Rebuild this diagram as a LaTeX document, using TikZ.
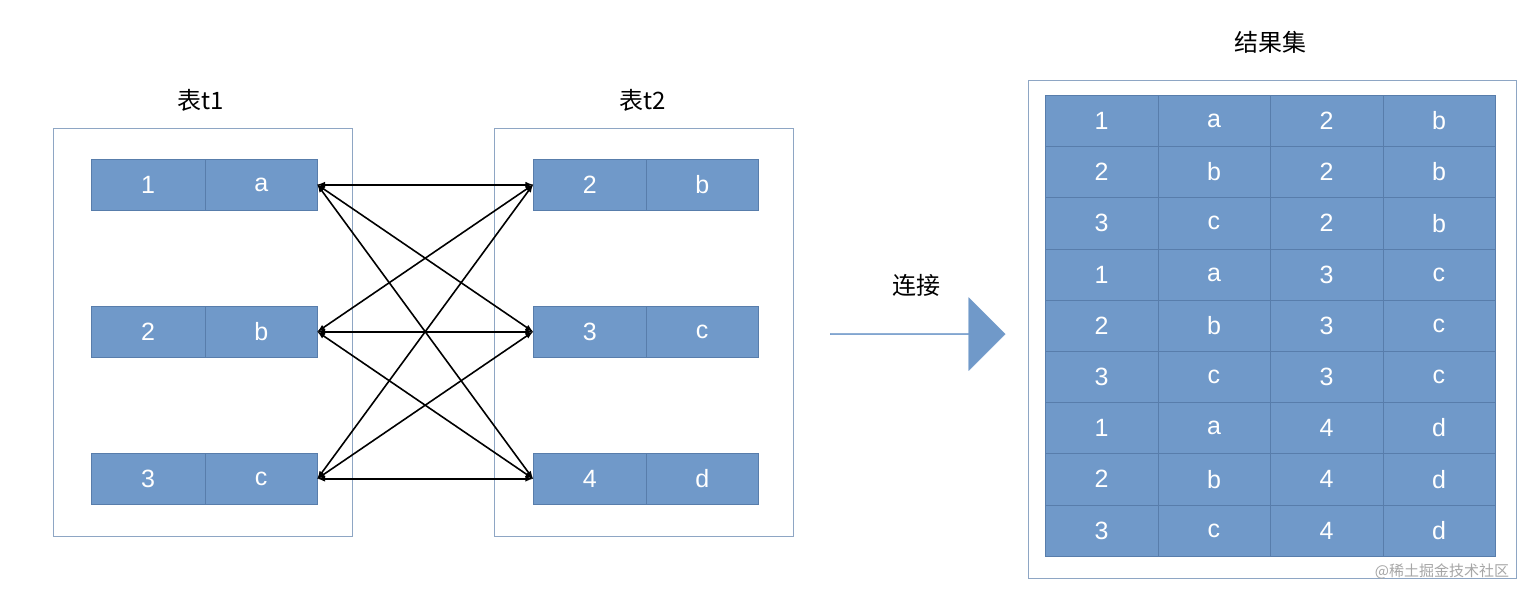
\documentclass[tikz,border=0pt]{standalone}
\usepackage{fontspec}
\setmainfont{Liberation Sans}
\newfontfamily\cjk{Noto Sans CJK SC}
\usetikzlibrary{shapes.arrows}
\definecolor{cellb}{HTML}{7099C9}
\definecolor{celld}{HTML}{587DAB}
\definecolor{boxl}{HTML}{8EA6C4}
\begin{document}
\begin{tikzpicture}[x=1pt,y=-1pt,
  cell/.style={draw=celld,fill=cellb,text=white,minimum height=51pt,inner sep=0pt,font=\fontsize{25}{25}\selectfont,anchor=north west},
  frame/.style={draw=boxl,line width=1pt},
  lbl/.style={font=\cjk\fontsize{24}{24}\selectfont},
  conn/.style={<->,>=latex,line width=1.6pt}]
\useasboundingbox (0,0) rectangle (1540,600);
\node[frame,minimum width=299pt,minimum height=408pt,anchor=north west,inner sep=0pt] (b1) at (53,128) {};
\node[frame,minimum width=299pt,minimum height=408pt,anchor=north west,inner sep=0pt] (b2) at (494,128) {};
\node[lbl] (t1) at (201,100) {表t1};
\node[lbl] (t2) at (643,100) {表t2};
\foreach \i/\y/\n/\l in {1/159/1/a,2/306/2/b,3/453/3/c}{
  \node[cell,minimum width=114pt] (l\i a) at (91,\y) {\n};
  \node[cell,minimum width=112pt] (l\i b) at (205,\y) {\l};
}
\foreach \i/\y/\n/\l in {1/159/2/b,2/306/3/c,3/453/4/d}{
  \node[cell,minimum width=113pt] (r\i a) at (533,\y) {\n};
  \node[cell,minimum width=112pt] (r\i b) at (646,\y) {\l};
}
\foreach \i in {1,2,3}{\foreach \j in {1,2,3}{
  \draw[conn] (l\i b.east) -- (r\j a.west);
}}
\node[lbl] (lj) at (916,285) {连接};
\node[single arrow,fill=cellb,draw=cellb,minimum height=175pt,minimum width=73pt,single arrow head extend=13pt,inner sep=0pt,anchor=west] (ar) at (830,334) {};
\node[frame,minimum width=488pt,minimum height=498pt,anchor=north west,inner sep=0pt] (b3) at (1028,80) {};
\node[lbl] (t3) at (1270,42) {结果集};
\foreach \r/\a/\b/\c/\d in {0/1/a/2/b,1/2/b/2/b,2/3/c/2/b,3/1/a/3/c,4/2/b/3/c,5/3/c/3/c,6/1/a/4/d,7/2/b/4/d,8/3/c/4/d}{
  \node[cell,minimum width=112.5pt,minimum height=51.2pt] (c\r a) at (1045,95+51.2*\r) {\a};
  \node[cell,minimum width=112.5pt,minimum height=51.2pt] (c\r b) at (1157.5,95+51.2*\r) {\b};
  \node[cell,minimum width=112.5pt,minimum height=51.2pt] (c\r c) at (1270,95+51.2*\r) {\c};
  \node[cell,minimum width=112.5pt,minimum height=51.2pt] (c\r d) at (1382.5,95+51.2*\r) {\d};
}
\node[font=\cjk\fontsize{15}{15}\selectfont,text=gray!70] (wm) at (1442,571) {@稀土掘金技术社区};
\end{tikzpicture}
\end{document}
